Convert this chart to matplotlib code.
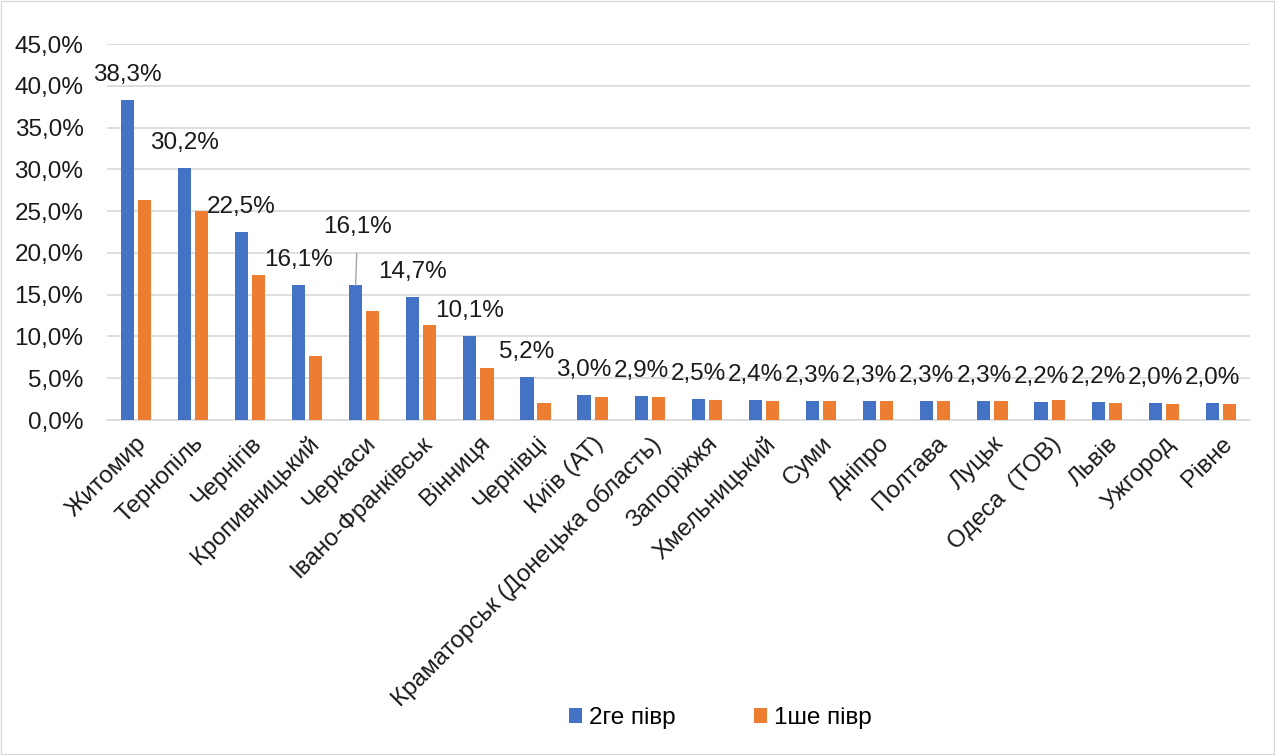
import matplotlib.pyplot as plt
import numpy as np
from matplotlib.patches import Rectangle

# Data ----------------------------------------------------------------------------------------------------------------
cities = ['Житомир', 'Тернопіль', 'Чернігів', 'Кропивницький', 'Черкаси', 'Івано-Франківськ', 'Вінниця',
          'Чернівці', 'Київ (АТ)', 'Краматорськ (Донецька область)', 'Запоріжжя', 'Хмельницький', 'Суми',
          'Дніпро', 'Полтава', 'Луцьк', 'Одеса  (ТОВ)', 'Львів', 'Ужгород', 'Рівне']
secondHalf = [38.3, 30.2, 22.5, 16.1, 16.1, 14.7, 10.1, 5.2, 3.0, 2.9, 2.5, 2.4, 2.3, 2.3, 2.3, 2.3, 2.2, 2.2, 2.0, 2.0]
firstHalf  = [26.3, 25.0, 17.4, 7.7, 13.0, 11.4, 6.2, 2.0, 2.8, 2.7, 2.4, 2.3, 2.3, 2.3, 2.3, 2.3, 2.4, 2.0, 1.9, 1.9]
seriesNames = ['2ге півр', '1ше півр']
yTicks = [0, 5, 10, 15, 20, 25, 30, 35, 40, 45]
# ---------------------------------------------------------------------------------------------------------------------

plt.rcParams['font.family'] = ['Liberation Sans', 'DejaVu Sans']

blue, orange = '#4472C4', '#ED7D31'
gridColor = '#D9D9D9'
textColor = '#1a1a1a'
fs = 17.5

fig = plt.figure(figsize=(12.75, 7.55), dpi=100)
ax = fig.add_axes([0.084, 0.4437, 0.896, 0.498])

x = np.arange(len(cities))
w = 0.23
ax.bar(x - 0.15, secondHalf, width=w, color=blue, label=seriesNames[0], zorder=3)
ax.bar(x + 0.15, firstHalf, width=w, color=orange, label=seriesNames[1], zorder=3)

# Data labels above the blue bars
for i, v in enumerate(secondHalf):
    txt = f'{v:.1f}%'.replace('.', ',')
    if cities[i] == 'Черкаси':
        # label pulled up with a leader line
        ax.annotate(txt, xy=(x[i] - 0.15, v), xytext=(1.5, 42), textcoords='offset points',
                    ha='center', va='center', fontsize=fs, color=textColor,
                    arrowprops=dict(arrowstyle='-', color='#A6A6A6', lw=1, shrinkA=9, shrinkB=0))
    else:
        ax.annotate(txt, xy=(x[i] - 0.15, v), xytext=(0, 18), textcoords='offset points',
                    ha='center', va='center', fontsize=fs, color=textColor)

ax.set_xlim(-0.5, len(cities) - 0.5)
ax.set_ylim(0, 45)
ax.set_yticks(yTicks)
ax.set_yticklabels([f'{t:.1f}%'.replace('.', ',') for t in yTicks], fontsize=fs, color=textColor)
ax.set_xticks(x)
ax.set_xticklabels(cities, rotation=45, ha='right', rotation_mode='anchor', fontsize=fs, color=textColor)
ax.tick_params(axis='y', length=0, pad=17)
ax.tick_params(axis='x', length=0, pad=9)

ax.grid(axis='y', color=gridColor, lw=1.2, zorder=0)
for s in ['top', 'right', 'left']:
    ax.spines[s].set_visible(False)
ax.spines['bottom'].set_color(gridColor)
ax.spines['bottom'].set_linewidth(1.2)

fig.legend(loc='center', bbox_to_anchor=(0.565, 0.049), ncol=2, frameon=False, fontsize=fs,
           handlelength=0.55, handleheight=0.55, handletextpad=0.3, columnspacing=3.2)

# Chart border
fig.patches.append(Rectangle((0.001, 0.001), 0.998, 0.998, transform=fig.transFigure,
                             fill=False, edgecolor=gridColor, lw=1))

fig.savefig('out.png', dpi=100)
